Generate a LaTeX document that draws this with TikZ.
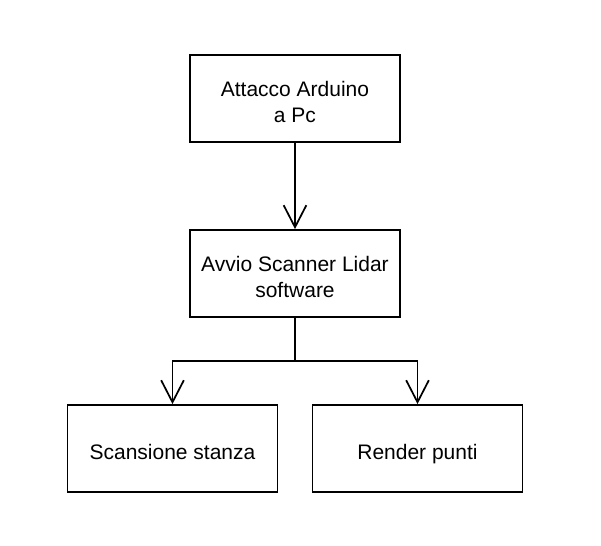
\documentclass[tikz,border=0pt]{standalone}
\usepackage{fontspec}
\setmainfont{Liberation Sans}
\usetikzlibrary{arrows.meta}
\begin{document}
\begin{tikzpicture}[x=0.75pt,y=-0.75pt,
  box/.style={draw, line width=1.3pt, minimum width=157.5pt, minimum height=65.25pt, inner sep=0pt},
  txt/.style={align=center, inner sep=0pt, font=\fontsize{15.75}{18.9}\selectfont},
  conn/.style={line width=1.3pt, -{Straight Barb[length=16.5pt,width=17pt,line width=1.3pt]}}]
\useasboundingbox (0,0) rectangle (601,546);
\node[box] (a) at (295,98.5) {};
\node[box] (b) at (295,273.5) {};
\node[box] (c) at (172.5,448.5) {};
\node[box] (d) at (417.5,448.5) {};
\node[txt] (ta) at (295,102) {Attacco Arduino\\a Pc};
\node[txt] (tb) at (295,277) {Avvio Scanner Lidar\\software};
\node[txt, anchor=base] (tc) at (172.5,459.5) {Scansione stanza};
\node[txt, anchor=base] (td) at (417.5,459.5) {Render punti};
\coordinate (j) at (295,361);
\draw[conn] (a) -- (b);
\draw[conn] (b.south) -- (j) -| (c.north);
\draw[conn] (b.south) -- (j) -| (d.north);
\end{tikzpicture}
\end{document}
